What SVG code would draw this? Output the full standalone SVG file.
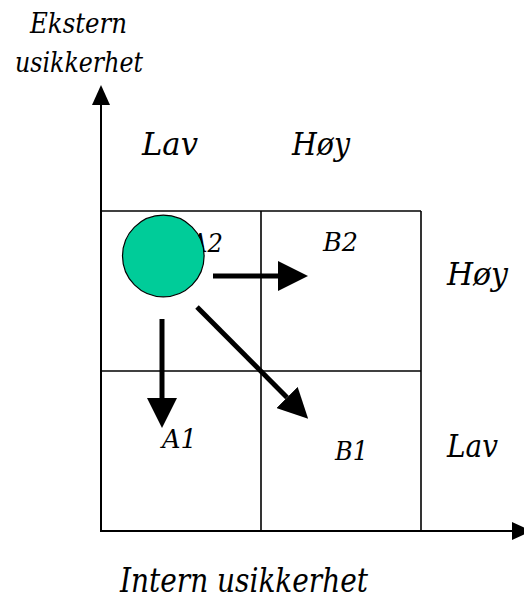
<svg xmlns="http://www.w3.org/2000/svg" width="524" height="605" viewBox="0 0 524 605">
<style>
text{font-family:'DejaVu Serif','Liberation Serif',serif;font-style:italic;fill:#000}
.ax{font-size:32px}
.cell{font-size:26px}
.title{font-size:27px}
.grid{stroke:#000;stroke-width:1.6;fill:none}
.axis{stroke:#000;stroke-width:2;fill:none}
.arr{stroke:#000;stroke-width:5;fill:none}
</style>
<defs>
<marker id="bigHead" viewBox="0 0 30 30" refX="0" refY="15" markerWidth="30" markerHeight="30" markerUnits="userSpaceOnUse" orient="auto">
<path d="M0,0 L30,15 L0,30 Z" fill="#000"/>
</marker>
<marker id="axHead" viewBox="0 0 20 18" refX="0" refY="9" markerWidth="20" markerHeight="18" markerUnits="userSpaceOnUse" orient="auto">
<path d="M0,0 L20,9 L0,18 Z" fill="#000"/>
</marker>
</defs>
<g id="grid">
<line class="grid" x1="101" y1="211" x2="421" y2="211"/>
<line class="grid" x1="101" y1="371" x2="421" y2="371"/>
<line class="grid" x1="261" y1="211" x2="261" y2="531"/>
<line class="grid" x1="421" y1="211" x2="421" y2="531"/>
</g>
<g id="axes">
<line class="axis" x1="101" y1="532" x2="101" y2="105" marker-end="url(#axHead)"/>
<line class="axis" x1="100" y1="531" x2="512" y2="531" marker-end="url(#axHead)"/>
</g>
<g id="labels">
<text class="title" x="30" y="33" textLength="97" lengthAdjust="spacingAndGlyphs">Ekstern</text>
<text class="title" x="15" y="72" textLength="128" lengthAdjust="spacingAndGlyphs">usikkerhet</text>
<text class="ax" x="142" y="155" textLength="56" lengthAdjust="spacingAndGlyphs">Lav</text>
<text class="ax" x="292" y="155" textLength="58" lengthAdjust="spacingAndGlyphs">Høy</text>
<text class="ax" x="447" y="285" textLength="61" lengthAdjust="spacingAndGlyphs">Høy</text>
<text class="ax" x="447" y="457" textLength="51" lengthAdjust="spacingAndGlyphs">Lav</text>
<text style="font-size:33px" x="120" y="592" textLength="248" lengthAdjust="spacingAndGlyphs">Intern usikkerhet</text>
</g>
<g id="A2"><text class="cell" x="190" y="252" textLength="33" lengthAdjust="spacingAndGlyphs">A2</text></g>
<g id="B2"><text class="cell" x="323" y="251" textLength="35" lengthAdjust="spacingAndGlyphs">B2</text></g>
<g id="A1"><text class="cell" x="162" y="448" textLength="35" lengthAdjust="spacingAndGlyphs">A1</text></g>
<g id="B1"><text class="cell" x="335" y="460" textLength="33" lengthAdjust="spacingAndGlyphs">B1</text></g>
<g id="circle"><circle cx="163.3" cy="256" r="40.8" fill="#00CC99" stroke="#000" stroke-width="1.2"/></g>
<g id="connectors">
<line class="arr" x1="213" y1="276" x2="278" y2="276" marker-end="url(#bigHead)"/>
<line class="arr" x1="162" y1="319" x2="162" y2="398" marker-end="url(#bigHead)"/>
<line class="arr" x1="197" y1="307" x2="287" y2="397.5" marker-end="url(#bigHead)"/>
</g>
</svg>
